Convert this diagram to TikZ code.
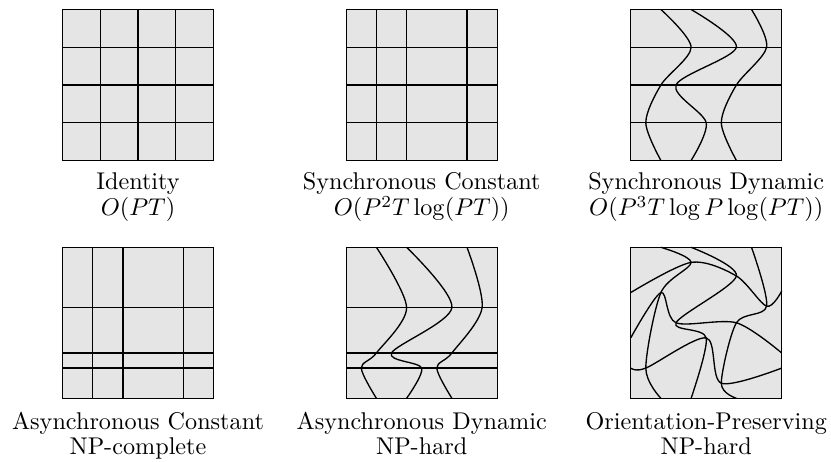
\documentclass[tikz,border=0pt]{standalone}
\begin{document}
\begin{tikzpicture}[x=0.4132pt,y=-0.4132pt]
\tikzset{
  panelfill/.style={fill=gray!20},
  border/.style={draw=black, line width=0.55pt},
  gridline/.style={draw=black, line width=0.55pt},
  warp/.style={draw=black, line width=0.55pt, smooth},
  lbl/.style={anchor=base, inner sep=0pt},
  unit/.style={x=62.39pt, y=-62.39pt}
}
\useasboundingbox (0,0) rectangle (831,462);

% ---------- Panel 1: Identity
\begin{scope}[shift={(62.5,9.5)}, unit]
  \fill[panelfill] (0,0) rectangle (1,1);
  \foreach \t in {0.25,0.5,0.75} {
    \draw[gridline] (\t,0) -- (\t,1);
    \draw[gridline] (0,\t) -- (1,\t);
  }
  \draw[border] (0,0) rectangle (1,1);
\end{scope}

% ---------- Panel 2: Synchronous Constant
\begin{scope}[shift={(346.2,9.5)}, unit]
  \fill[panelfill] (0,0) rectangle (1,1);
  \foreach \t in {0.2,0.4,0.8} \draw[gridline] (\t,0) -- (\t,1);
  \foreach \t in {0.25,0.5,0.75} \draw[gridline] (0,\t) -- (1,\t);
  \draw[border] (0,0) rectangle (1,1);
\end{scope}

% ---------- Panel 3: Synchronous Dynamic
\begin{scope}[shift={(630.7,9.5)}, unit]
  \fill[panelfill] (0,0) rectangle (1,1);
  \foreach \t in {0.25,0.5,0.75} \draw[gridline] (0,\t) -- (1,\t);
  \draw[warp] plot coordinates {(0.2,0) (0.4,0.25) (0.2,0.5) (0.1,0.75) (0.2,1)};
  \draw[warp] plot coordinates {(0.4,0) (0.7,0.25) (0.3,0.5) (0.5,0.75) (0.4,1)};
  \draw[warp] plot coordinates {(0.8,0) (0.9,0.25) (0.7,0.5) (0.6,0.75) (0.7,1)};
  \draw[border] (0,0) rectangle (1,1);
\end{scope}

% ---------- Panel 4: Asynchronous Constant
\begin{scope}[shift={(62.5,247.3)}, unit]
  \fill[panelfill] (0,0) rectangle (1,1);
  \foreach \t in {0.2,0.4,0.8} \draw[gridline] (\t,0) -- (\t,1);
  \foreach \t in {0.4,0.7,0.8} \draw[gridline] (0,\t) -- (1,\t);
  \draw[border] (0,0) rectangle (1,1);
\end{scope}

% ---------- Panel 5: Asynchronous Dynamic
\begin{scope}[shift={(346.2,247.3)}, unit]
  \fill[panelfill] (0,0) rectangle (1,1);
  \foreach \t in {0.4,0.7,0.8} \draw[gridline] (0,\t) -- (1,\t);
  \draw[warp] plot coordinates {(0.2,0) (0.4,0.4) (0.2,0.7) (0.1,0.8) (0.2,1)};
  \draw[warp] plot coordinates {(0.4,0) (0.7,0.4) (0.3,0.7) (0.5,0.8) (0.4,1)};
  \draw[warp] plot coordinates {(0.8,0) (0.9,0.4) (0.7,0.7) (0.6,0.8) (0.7,1)};
  \draw[border] (0,0) rectangle (1,1);
\end{scope}

% ---------- Panel 6: Orientation-Preserving
\begin{scope}[shift={(630.7,247.3)}, unit]
  \fill[panelfill] (0,0) rectangle (1,1);
  \draw[warp] plot coordinates {(0.2,0) (0.4,0.1) (0.2,0.3) (0.1,0.8) (0.2,1)};
  \draw[warp] plot coordinates {(0.4,0) (0.7,0.19) (0.3,0.5) (0.5,0.6) (0.4,1)};
  \draw[warp] plot coordinates {(0.8,0) (0.9,0.39) (0.7,0.5) (0.6,0.9) (0.7,1)};
  \draw[warp] plot coordinates {(0,0.3) (0.4,0.1) (0.7,0.19) (0.9,0.39) (1,0.29)};
  \draw[warp] plot coordinates {(0,0.6) (0.2,0.3) (0.3,0.5) (0.7,0.5) (1,0.7)};
  \draw[warp] plot coordinates {(0,0.8) (0.1,0.8) (0.5,0.6) (0.6,0.9) (1,0.8)};
  \draw[border] (0,0) rectangle (1,1);
\end{scope}

% ---------- Labels
\node[lbl] (t1) at (138,190) {Identity};
\node[lbl] (c1) at (138,216) {$O(PT)$};
\node[lbl] (t2) at (421.7,190) {Synchronous Constant};
\node[lbl] (c2) at (421.7,216) {$O(P^2T\log(PT))$};
\node[lbl] (t3) at (706.2,190) {Synchronous Dynamic};
\node[lbl] (c3) at (706.2,216) {$O(P^3T\log P\log(PT))$};
\node[lbl] (t4) at (138,429) {Asynchronous Constant};
\node[lbl] (c4) at (138,454) {NP-complete};
\node[lbl] (t5) at (421.7,429) {Asynchronous Dynamic};
\node[lbl] (c5) at (421.7,454) {NP-hard};
\node[lbl] (t6) at (706.2,429) {Orientation-Preserving};
\node[lbl] (c6) at (706.2,454) {NP-hard};
\end{tikzpicture}
\end{document}
